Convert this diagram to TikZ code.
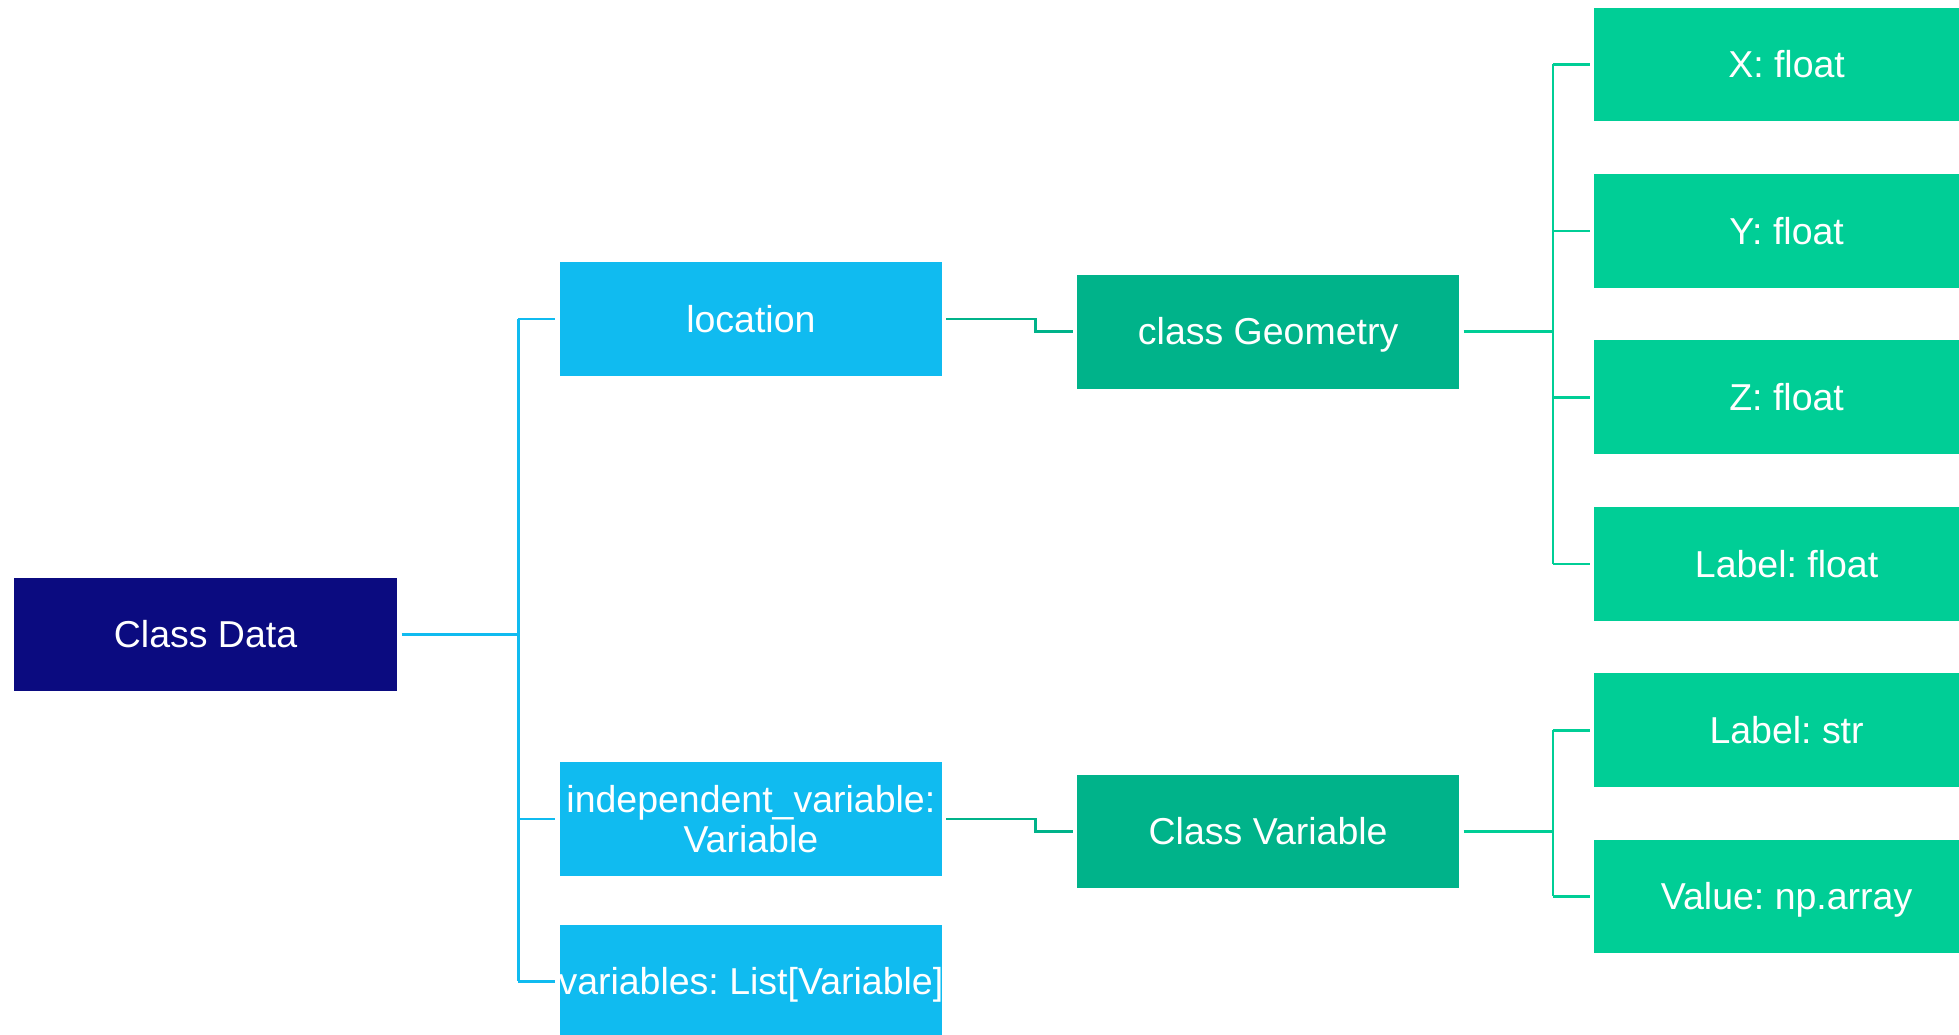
\documentclass[tikz,border=0pt]{standalone}
\usepackage{fontspec}
\setmainfont{Liberation Sans}
\frenchspacing
\definecolor{navy}{HTML}{0B0B80}
\definecolor{skyblue}{HTML}{10BBF0}
\definecolor{midgreen}{HTML}{00B38A}
\definecolor{lightgreen}{HTML}{00CE96}
\begin{document}
\begin{tikzpicture}[x=1pt,y=1pt,
  box/.style={rectangle, inner sep=0pt, outer xsep=3.5pt, outer ysep=0pt,
    minimum width=306pt, minimum height=91pt, text=white, align=center,
    font=\fontsize{30}{32}\selectfont},
  oneline/.style={text height=27.2pt, text depth=6.4pt},
  rootbox/.style={box, oneline, fill=navy, minimum width=307pt, minimum height=90pt},
  fieldbox/.style={box, fill=skyblue},
  classbox/.style={box, oneline, fill=midgreen},
  attrbox/.style={box, oneline, fill=lightgreen, minimum width=308pt},
  blueline/.style={draw=skyblue, line width=2pt},
  greenline/.style={draw=midgreen, line width=2pt},
  attrline/.style={draw=lightgreen, line width=2pt}]
\useasboundingbox (0,0) rectangle (1568,-828);
\clip (0,0) rectangle (1568,-828);

% root class
\node[rootbox] (data) at (164.5,-508) {Class Data};

% fields of Data
\node[fieldbox, oneline] (loc) at (601,-255.5) {location};
\node[fieldbox] (indep) at (601,-655.5) {independent\_variable:\\Variable};
\node[fieldbox, oneline] (vars) at (601,-785.5) {\makebox[0pt]{variables: List[Variable]}};

% nested classes
\node[classbox] (geo)  at (1015,-265.5) {class Geometry};
\node[classbox] (cvar) at (1015,-665.5) {Class Variable};

% attributes
\node[attrbox] (gx)   at (1430,-51.5)  {X: float};
\node[attrbox] (gy)   at (1430,-185)   {Y: float};
\node[attrbox] (gz)   at (1430,-318)   {Z: float};
\node[attrbox] (glab) at (1430,-451.5) {Label: float};
\node[attrbox] (vlab) at (1430,-584.5) {Label: str};
\node[attrbox] (vval) at (1430,-717.5) {Value: np.array};

% trunk positions
\coordinate (t1) at (415,0);
\coordinate (m1) at (829,0);
\coordinate (t2) at (1243,0);

% Data -> fields
\draw[blueline] (data.east) -- (t1 |- data.east);
\draw[blueline] (t1 |- loc.west) -- (t1 |- vars.west);
\foreach \n in {loc,indep,vars}
  \draw[blueline] (t1 |- \n.west) -- (\n.west);

% fields -> classes
\draw[greenline] (loc.east) -- (m1 |- loc.east) -- (m1 |- geo.west) -- (geo.west);
\draw[greenline] (indep.east) -- (m1 |- indep.east) -- (m1 |- cvar.west) -- (cvar.west);

% Geometry -> attributes
\draw[attrline] (geo.east) -- (t2 |- geo.east);
\draw[attrline] (t2 |- gx.west) -- (t2 |- glab.west);
\foreach \n in {gx,gy,gz,glab}
  \draw[attrline] (t2 |- \n.west) -- (\n.west);

% Variable -> attributes
\draw[attrline] (cvar.east) -- (t2 |- cvar.east);
\draw[attrline] (t2 |- vlab.west) -- (t2 |- vval.west);
\foreach \n in {vlab,vval}
  \draw[attrline] (t2 |- \n.west) -- (\n.west);
\end{tikzpicture}
\end{document}
